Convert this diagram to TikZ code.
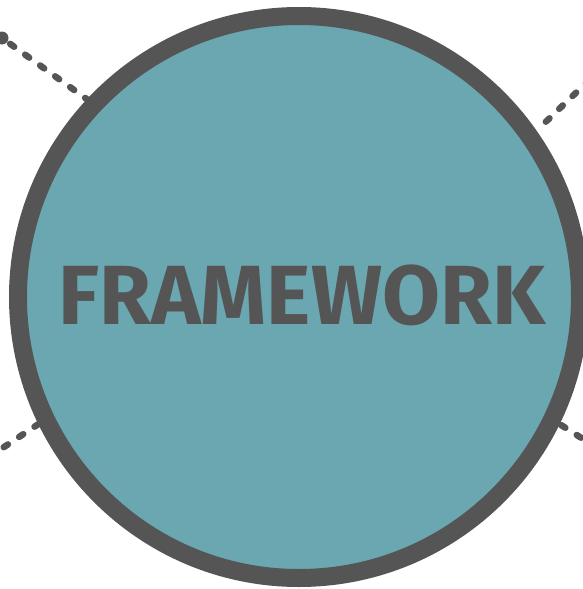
\documentclass[tikz,border=0pt]{standalone}
\usepackage{fontspec}
\newfontfamily\firasans{Fira Sans}
\definecolor{framegray}{HTML}{555555}
\definecolor{frameteal}{HTML}{6AA7B0}
\pgfdeclarelayer{back}
\pgfsetlayers{back,main}

\begin{document}
\begin{tikzpicture}[x=1pt, y=-1pt,
conn/.style={draw=framegray, line width=6.5pt, line cap=round, dash pattern=on 5pt off 13.5pt, dash phase=-10pt},
hub/.style={circle, draw=framegray, fill=frameteal, line width=18pt, minimum size=562pt, inner sep=0pt}]
\clip (0,0) rectangle (583,589);
\node[hub] (fw) at (299,297) {};
\node[text=framegray, font=\firasans\bfseries\fontsize{84}{84}\selectfont] (fwlabel) at (302,295) {FRAMEWORK};
% loose ends of the links
\coordinate (tl) at (2,38);
\coordinate (tr) at (610,60);
\coordinate (bl) at (-20,463);
\coordinate (br) at (605,453);
\begin{pgfonlayer}{back}
\draw[conn] (tl) -- (fw.137.3);
\draw[conn] (tr) -- (fw.35);
\draw[conn] (bl) -- (fw.206.7);
\draw[conn] (br) -- (fw.-26.4);
\fill[framegray] (tl) circle (6.5);
\end{pgfonlayer}
\end{tikzpicture}
\end{document}
